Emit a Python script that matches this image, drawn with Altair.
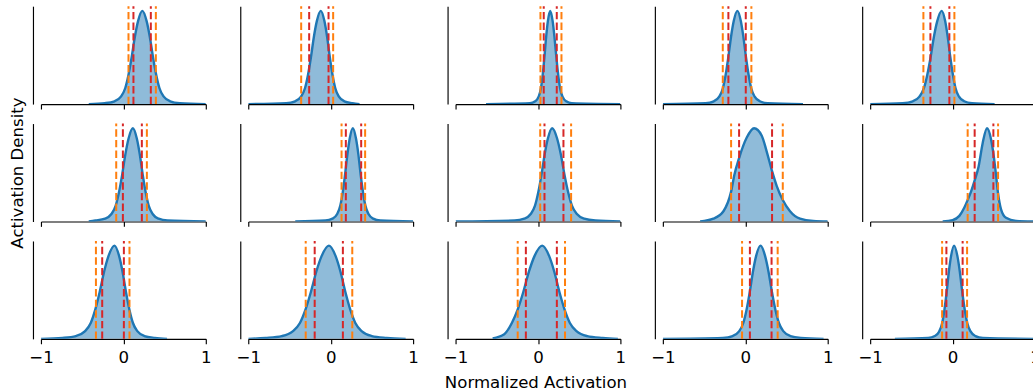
import altair as alt
import pandas as pd

X_TICKS = [-1, 0, 1]
X_TITLE = "Normalized Activation"
Y_TITLE = "Activation Density"

# Standard sampled density profile (relative height, peak = 1)
STD_Y = [0.0, 0.01, 0.03, 0.08, 0.17, 0.31, 0.50, 0.72, 0.89, 1.0,
         0.89, 0.72, 0.50, 0.31, 0.17, 0.08, 0.03, 0.01, 0.0]

CURVE_X = [
    [-0.42, -0.225, -0.108, -0.03, 0.022, 0.061, 0.10, 0.139, 0.178, 0.23, 0.282, 0.321, 0.36, 0.399, 0.438, 0.49, 0.568, 0.685, 1.0],
    [-1.0, -0.54, -0.432, -0.36, -0.312, -0.276, -0.24, -0.204, -0.168, -0.12, -0.076, -0.043, -0.01, 0.023, 0.056, 0.10, 0.166, 0.265, 0.35],
    [-0.63, -0.097, -0.034, 0.008, 0.036, 0.057, 0.078, 0.099, 0.12, 0.148, 0.178, 0.2, 0.223, 0.246, 0.268, 0.298, 0.343, 0.41, 1.0],
    [-1.0, -0.481, -0.382, -0.316, -0.272, -0.239, -0.206, -0.173, -0.14, -0.096, -0.054, -0.023, 0.009, 0.041, 0.072, 0.114, 0.177, 0.272, 0.70],
    [-1.0, -0.605, -0.483, -0.402, -0.348, -0.308, -0.267, -0.227, -0.186, -0.132, -0.09, -0.059, -0.027, 0.005, 0.036, 0.078, 0.141, 0.236, 0.51],
    [-0.42, -0.34, -0.223, -0.145, -0.093, -0.054, -0.015, 0.024, 0.063, 0.115, 0.163, 0.199, 0.235, 0.271, 0.307, 0.355, 0.427, 0.535, 1.0],
    [-0.43, -0.064, 0.022, 0.079, 0.117, 0.146, 0.174, 0.203, 0.231, 0.269, 0.307, 0.336, 0.364, 0.393, 0.421, 0.459, 0.516, 0.602, 1.0],
    [-1.0, -0.283, -0.166, -0.088, -0.036, 0.003, 0.042, 0.081, 0.12, 0.172, 0.232, 0.277, 0.322, 0.367, 0.412, 0.472, 0.562, 0.697, 1.0],
    [-0.548, -0.387, -0.265, -0.172, -0.132, -0.075, 0.018, 0.107, 0.2, 0.26, 0.325, 0.382, 0.455, 0.543, 0.664, 0.825, 1.0],
    [-0.12, 0.001, 0.082, 0.143, 0.183, 0.224, 0.268, 0.316, 0.365, 0.418, 0.467, 0.495, 0.527, 0.552, 0.588, 0.648, 0.77, 1.0],
    [-1.0, -0.738, -0.576, -0.468, -0.396, -0.342, -0.288, -0.234, -0.18, -0.108, -0.052, -0.01, 0.032, 0.074, 0.116, 0.172, 0.256, 0.382, 0.53],
    [-1.0, -0.791, -0.593, -0.461, -0.373, -0.307, -0.241, -0.175, -0.109, -0.021, 0.059, 0.119, 0.179, 0.239, 0.299, 0.379, 0.499, 0.679, 0.91],
    [-0.55, -0.409, -0.317, -0.248, -0.179, -0.11, -0.041, 0.051, 0.135, 0.198, 0.261, 0.324, 0.387, 0.471, 0.597, 0.786, 0.97],
    [-1.0, -0.271, -0.154, -0.076, -0.024, 0.015, 0.054, 0.093, 0.132, 0.184, 0.24, 0.282, 0.324, 0.366, 0.408, 0.464, 0.548, 0.674, 0.95],
    [-0.70, -0.297, -0.216, -0.162, -0.126, -0.099, -0.072, -0.045, -0.018, 0.018, 0.058, 0.088, 0.118, 0.148, 0.178, 0.218, 0.278, 0.368, 1.0],
]

CURVE_Y = [
    STD_Y, STD_Y, STD_Y, STD_Y, STD_Y,
    STD_Y, STD_Y, STD_Y,
    [0.0, 0.03, 0.11, 0.32, 0.50, 0.68, 0.90, 1.0, 0.92, 0.75, 0.54, 0.38, 0.23, 0.11, 0.03, 0.005, 0.0],
    [0.0, 0.015, 0.06, 0.15, 0.23, 0.32, 0.44, 0.59, 0.84, 1.0, 0.88, 0.73, 0.50, 0.30, 0.13, 0.04, 0.007, 0.0],
    STD_Y, STD_Y,
    [0.005, 0.05, 0.17, 0.31, 0.50, 0.72, 0.89, 1.0, 0.89, 0.72, 0.50, 0.31, 0.17, 0.08, 0.03, 0.01, 0.0],
    STD_Y, STD_Y,
]

ORANGE_LO = [0.062, -0.358, 0.030, -0.273, -0.354, -0.087, 0.132, 0.027, -0.172, 0.183, -0.333, -0.303, -0.246, -0.039, -0.127]
RED_LO    = [0.122, -0.261, 0.070, -0.205, -0.269, -0.006, 0.184, 0.079, -0.075, 0.268, -0.257, -0.194, -0.147, 0.056, -0.075]
RED_HI    = [0.333, -0.026, 0.228, 0.006, -0.039, 0.224, 0.370, 0.309, 0.325, 0.495, 0.006, 0.148, 0.229, 0.319, 0.122]
ORANGE_HI = [0.394, 0.030, 0.285, 0.074, 0.022, 0.285, 0.418, 0.402, 0.455, 0.552, 0.074, 0.262, 0.328, 0.393, 0.176]

W, H = 165, 98
FS = 16.6
BLUE, ORANGE, RED = "#1f77b4", "#ff7f0e", "#d62728"


def panel(i):
    r, c = divmod(i, 5)
    df = pd.DataFrame({"x": CURVE_X[i], "y": CURVE_Y[i]})
    xscale = alt.Scale(domain=[-1, 1], nice=False, zero=False)
    xt = X_TITLE if (r == 2 and c == 2) else None
    xargs = dict(values=X_TICKS, labels=(r == 2), labelFlush=False, labelOverlap=False,
                 tickSize=4.9, labelPadding=6, format=".0f")
    if xt:
        xargs.update(title=xt, titleX=80, titlePadding=8)
    else:
        xargs.update(title=None)
    xaxis = alt.Axis(**xargs)
    yt = Y_TITLE if (r == 1 and c == 0) else None
    yargs = dict(ticks=False, labels=False, offset=8)
    if yt:
        yargs.update(title=yt, titlePadding=7)
    else:
        yargs.update(title=None)
    yaxis = alt.Axis(**yargs)
    yscale = alt.Scale(domain=[0, 1.05], nice=False, zero=True)

    x = alt.X("x:Q", scale=xscale, axis=xaxis)
    y = alt.Y("y:Q", scale=yscale, axis=yaxis)
    area = alt.Chart(df).mark_area(color=BLUE, opacity=0.5, interpolate="monotone", clip=True).encode(x=x, y=y)
    line = alt.Chart(df).mark_line(color=BLUE, strokeWidth=2.4, interpolate="monotone", clip=True).encode(x=x, y=y)

    odf = pd.DataFrame({"v": [ORANGE_LO[i], ORANGE_HI[i]]})
    rdf = pd.DataFrame({"v": [RED_LO[i], RED_HI[i]]})
    vx = alt.X("v:Q", scale=xscale, axis=xaxis)
    orules = alt.Chart(odf).mark_rule(color=ORANGE, strokeWidth=2, strokeDash=[7.4, 3.2]).encode(
        x=vx, y=alt.value(H), y2=alt.value(0))
    rrules = alt.Chart(rdf).mark_rule(color=RED, strokeWidth=2, strokeDash=[7.4, 3.2]).encode(
        x=vx, y=alt.value(H), y2=alt.value(0))
    return alt.layer(area, line, orules, rrules).properties(width=W, height=H)


chart = alt.concat(*[panel(i) for i in range(15)], columns=5,
                   spacing={"row": 19.5, "column": 42.5}, bounds="flush").properties(
    padding={"left": 9, "top": 5, "right": -8, "bottom": 0}
).configure(font="DejaVu Sans").configure_view(stroke=None).configure_axis(
    grid=False, domainColor="black", domainWidth=1.15, tickColor="black", tickWidth=1.15,
    labelFontSize=FS, labelColor="black", labelFont="DejaVu Sans",
    titleFontSize=FS, titleFontWeight="normal", titleColor="black", titleFont="DejaVu Sans",
)

chart.save("out.html", embed_options={"renderer": "svg", "actions": False})
